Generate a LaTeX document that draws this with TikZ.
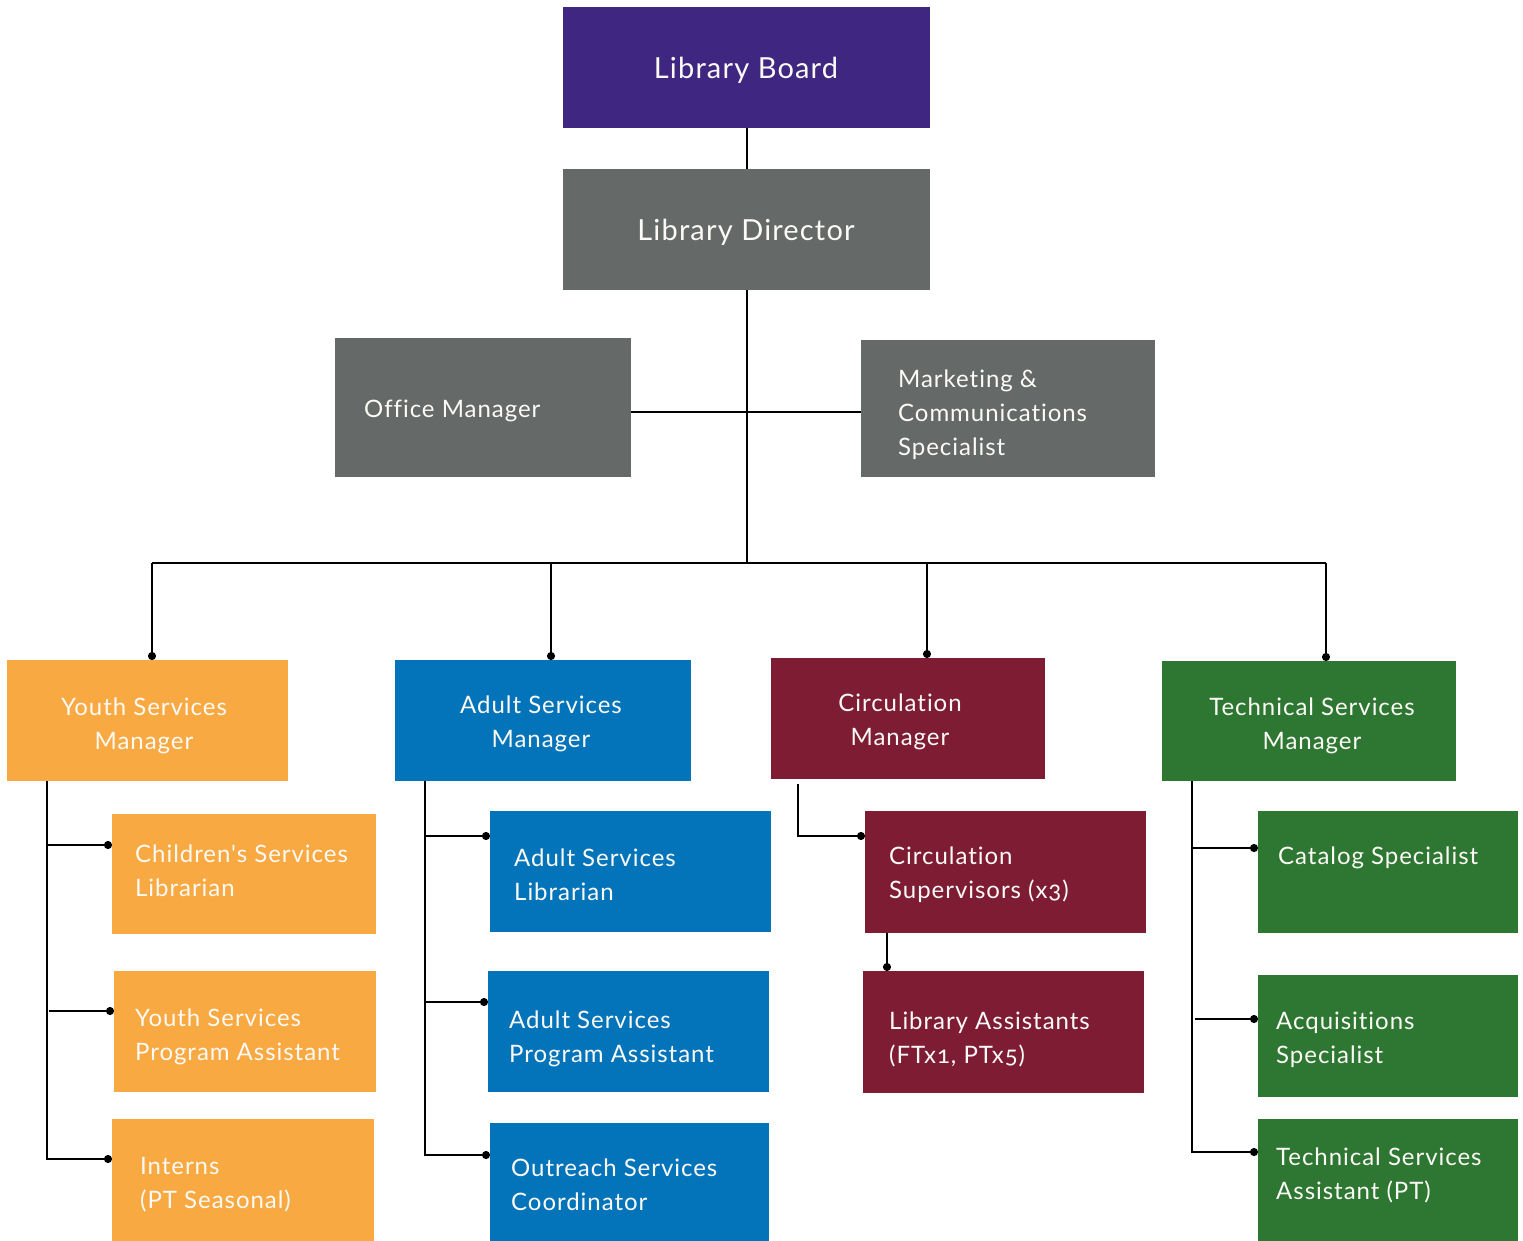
\documentclass[tikz,border=0pt]{standalone}
\usepackage{fontspec}
\setmainfont{Lato}[LetterSpace=4,Numbers=OldStyle,Ligatures={TeXOff,NoCommon}]
\usetikzlibrary{arrows.meta,calc}
\definecolor{cpurple}{RGB}{63,38,128}
\definecolor{cgray}{RGB}{101,106,105}
\definecolor{corange}{RGB}{249,169,66}
\definecolor{cblue}{RGB}{4,116,186}
\definecolor{cmaroon}{RGB}{126,28,52}
\definecolor{cgreen}{RGB}{46,119,50}
\definecolor{ctext}{RGB}{252,250,246}
\begin{document}
\begin{tikzpicture}[x=1pt,y=-1pt,
  box/.style={fill=#1,draw=none,inner sep=0pt,anchor=north west},
  txt/.style={text=ctext,font=\fontsize{24}{34}\selectfont,inner sep=0pt,align=left,anchor=west},
  ctxt/.style={text=ctext,font=\fontsize{24}{34}\selectfont,inner sep=0pt,align=center,anchor=center},
  big/.style={text=ctext,font=\fontsize{29}{34}\selectfont,inner sep=0pt,anchor=center},
  link/.style={line width=2pt,black},
  dotlink/.style={link,-{Circle[length=8pt,width=8pt]}},
]
\useasboundingbox (0,0) rectangle (1523,1241);

% boxes
\node[box=cpurple,minimum width=367pt,minimum height=121pt] (lb) at (563,7) {};
\node[box=cgray,minimum width=367pt,minimum height=121pt] (ld) at (563,169) {};
\node[box=cgray,minimum width=296pt,minimum height=139pt] (om) at (335,338) {};
\node[box=cgray,minimum width=294pt,minimum height=137pt] (mk) at (861,340) {};
\node[box=corange,minimum width=281pt,minimum height=121pt] (ysm) at (7,660) {};
\node[box=cblue,minimum width=296pt,minimum height=121pt] (asm) at (395,660) {};
\node[box=cmaroon,minimum width=274pt,minimum height=121pt] (cm) at (771,658) {};
\node[box=cgreen,minimum width=294pt,minimum height=120pt] (tsm) at (1162,661) {};
\node[box=corange,minimum width=264pt,minimum height=120pt] (csl) at (112,814) {};
\node[box=corange,minimum width=262pt,minimum height=121pt] (yspa) at (114,971) {};
\node[box=corange,minimum width=262pt,minimum height=122pt] (int) at (112,1119) {};
\node[box=cblue,minimum width=281pt,minimum height=121pt] (asl) at (490,811) {};
\node[box=cblue,minimum width=281pt,minimum height=121pt] (aspa) at (488,971) {};
\node[box=cblue,minimum width=279pt,minimum height=118pt] (osc) at (490,1123) {};
\node[box=cmaroon,minimum width=281pt,minimum height=122pt] (cs) at (865,811) {};
\node[box=cmaroon,minimum width=281pt,minimum height=122pt] (la) at (863,971) {};
\node[box=cgreen,minimum width=260pt,minimum height=122pt] (cat) at (1258,811) {};
\node[box=cgreen,minimum width=260pt,minimum height=122pt] (acq) at (1258,975) {};
\node[box=cgreen,minimum width=260pt,minimum height=122pt] (tsa) at (1258,1119) {};

% texts
\node[big] (lbt) at (746,70) {Library Board};
\node[big] (ldt) at (746,232) {Library Director};
\node[txt] (omt) at (364,411) {Office Manager};
\node[txt] (mkt) at (898,415) {Marketing \&\\Communications\\Specialist};
\node[ctxt] (ysmt) at (144,726) {Youth Services\\Manager};
\node[ctxt] (asmt) at (541,724) {Adult Services\\Manager};
\node[ctxt] (cmt) at (900,722) {Circulation\\Manager};
\node[ctxt] (tsmt) at (1312,726) {Technical Services\\Manager};
\node[txt] (cslt) at (135,871) {Children's Services\\Librarian};
\node[txt] (yspat) at (135,1037) {Youth Services\\Program Assistant};
\node[txt] (intt) at (140,1185) {Interns\\(PT Seasonal)};
\node[txt] (aslt) at (514,875) {Adult Services\\Librarian};
\node[txt] (aspat) at (509,1039) {Adult Services\\Program Assistant};
\node[txt] (osct) at (511,1185) {Outreach Services\\Coordinator};
\node[txt] (cst) at (889,875) {Circulation\\Supervisors (x3)};
\node[txt] (lat) at (889,1039) {Library Assistants\\(FTx1, PTx5)};
\node[txt] (catt) at (1278,858) {Catalog Specialist};
\node[txt] (acqt) at (1276,1040) {Acquisitions\\Specialist};
\node[txt] (tsat) at (1276,1175) {Technical Services\\Assistant (PT)};

% top connectors
\coordinate (busy) at (0,563);
\draw[link] (lb.south) -- (ld.north);
\draw[link] (ld.south) -- (ld.south |- busy);
\draw[link] (om.east |- 0,412) -- (mk.west |- 0,412);
\coordinate (bl) at (152,563);
\coordinate (ba) at (551,563);
\coordinate (bc) at (927,563);
\coordinate (br) at (1326,563);
\draw[link] (bl) -- (br);
\draw[dotlink] (bl) -- (bl |- ysm.north);
\draw[dotlink] (ba) -- (ba |- asm.north);
\draw[dotlink] (bc) -- (bc |- cm.north);
\draw[dotlink] (br) -- (br |- tsm.north);

% youth
\coordinate (yt) at ([xshift=40pt]ysm.south west);
\coordinate (cslb) at ([yshift=-31pt]csl.north west);
\coordinate (yspab) at ([yshift=-40pt]yspa.north west);
\coordinate (intb) at ([yshift=-40pt]int.north west);
\draw[dotlink] (yt) |- (intb);
\draw[dotlink] (yt |- cslb) -- (cslb);
\draw[dotlink] ([xshift=2pt]yt |- yspab) -- (yspab);

% adult
\coordinate (at) at ([xshift=30pt]asm.south west);
\coordinate (aslb) at ([yshift=-25pt]asl.north west);
\coordinate (aspab) at ([yshift=-31pt]aspa.north west);
\coordinate (oscb) at ([yshift=-32pt]osc.north west);
\draw[dotlink] (at) |- (oscb);
\draw[dotlink] (at |- aslb) -- (aslb);
\draw[dotlink] (at |- aspab) -- (aspab);

% circulation
\coordinate (ct) at ([xshift=27pt,yshift=-5pt]cm.south west);
\coordinate (csb) at ([yshift=-25pt]cs.north west);
\draw[dotlink] (ct) |- (csb);
\coordinate (cst) at ([xshift=22pt]cs.south west);
\draw[dotlink] (cst) -- (cst |- la.north);

% technical
\coordinate (tt) at ([xshift=30pt]tsm.south west);
\coordinate (catb) at ([yshift=-37pt]cat.north west);
\coordinate (acqb) at ([yshift=-44pt]acq.north west);
\coordinate (tsab) at ([yshift=-33pt]tsa.north west);
\draw[dotlink] (tt) |- (tsab);
\draw[dotlink] (tt |- catb) -- (catb);
\draw[dotlink] ([xshift=3pt]tt |- acqb) -- (acqb);
\end{tikzpicture}
\end{document}
